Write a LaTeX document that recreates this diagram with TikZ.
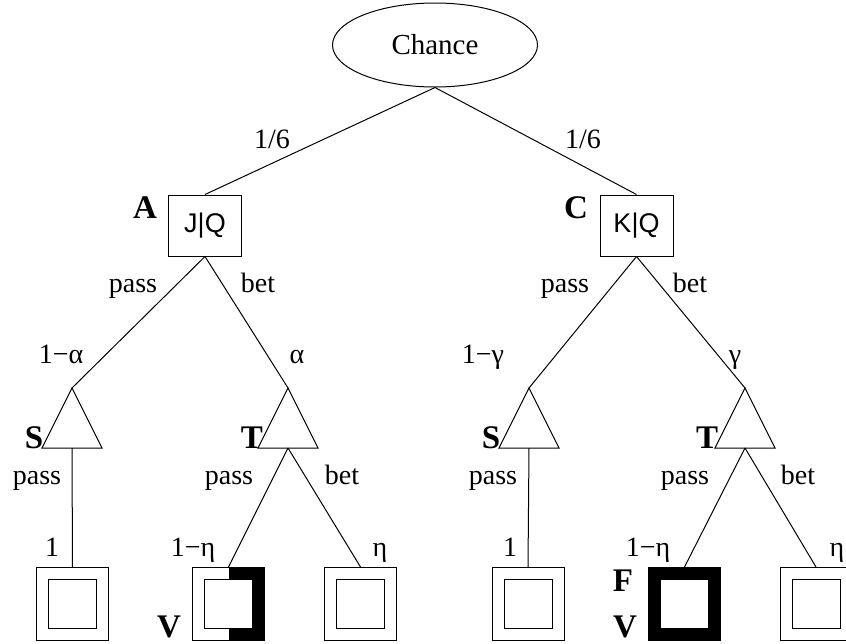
\documentclass[tikz,border=0pt]{standalone}
\usepackage{fontspec}
\setmainfont{Liberation Serif}
\newfontfamily\boxfont{Liberation Sans}
\usetikzlibrary{shapes.geometric}
\tikzset{
  edge/.style={draw=black,line width=1pt},
  lbl/.style={inner sep=0pt,anchor=base,font=\fontsize{28}{30}\selectfont},
  big/.style={inner sep=0pt,anchor=base,font=\fontsize{33}{36}\selectfont\bfseries},
  decbox/.style={draw,line width=1pt,minimum width=73pt,minimum height=61pt,inner sep=0pt,font=\boxfont\fontsize{27}{30}\selectfont},
}
\newcommand{\leafbox}[2]{%
  \draw[line width=1pt] (#2-36,567) rectangle (#2+36,640);
  \draw[line width=1pt] (#2-24,579) rectangle (#2+24,628);
  \coordinate (#1) at (#2,567);
}
\newcommand{\tri}[2]{%
  \draw[line width=1pt,line join=miter] (#2,388) -- (#2+30,448) -- (#2-30,448) -- cycle;
  \coordinate (#1top) at (#2,388);
  \coordinate (#1bot) at (#2,448);
}
\begin{document}
\begin{tikzpicture}[x=1pt,y=-1pt]
\useasboundingbox (0,0) rectangle (846,643);
\clip (0,0) rectangle (846,643);
\fill[white] (0,0) rectangle (846,643);

\node[draw,ellipse,line width=1pt,minimum width=205pt,minimum height=84pt,inner sep=0pt,font=\fontsize{29}{30}\selectfont] (chance) at (435,45) {Chance};

\node[decbox] (A) at (205,225.5) {J|Q};
\node[decbox] (C) at (636.5,225.5) {K|Q};

\tri{S1}{72}
\tri{T1}{288}
\tri{S2}{529}
\tri{T2}{745}

% thick frames
\fill[black] (228.5,567) rectangle (264.5,579);
\fill[black] (252.5,567) rectangle (264.5,640);
\fill[black] (228.5,628) rectangle (264.5,640);
\fill[black] (648.5,567) rectangle (720.5,579);
\fill[black] (648.5,628) rectangle (720.5,640);
\fill[black] (648.5,567) rectangle (660.5,640);
\fill[black] (708.5,567) rectangle (720.5,640);

\leafbox{L1}{72.5}
\leafbox{L2}{228.5}
\leafbox{L3}{360.5}
\leafbox{L4}{528}
\leafbox{L5}{684.5}
\leafbox{L6}{816}

% connectors
\draw[edge] (chance.south) -- (A.north);
\draw[edge] (chance.south) -- (C.north);
\draw[edge] (A.south) -- (S1top);
\draw[edge] (A.south) -- (T1top);
\draw[edge] (C.south) -- (S2top);
\draw[edge] (C.south) -- (T2top);
\draw[edge] (S1bot) -- (L1);
\draw[edge] (T1bot) -- (L2);
\draw[edge] (T1bot) -- (L3);
\draw[edge] (S2bot) -- (L4);
\draw[edge] (T2bot) -- (L5);
\draw[edge] (T2bot) -- (L6);

% labels
\node[lbl] (p16a) at (272,148) {1/6};
\node[lbl] (p16b) at (583,148) {1/6};
\node[big] (nA) at (145,218) {A};
\node[big] (nC) at (576,218) {C};

\node[lbl] (pa1) at (133,292) {pass};
\node[lbl] (ba1) at (258,292) {bet};
\node[lbl] (pc1) at (565,292) {pass};
\node[lbl] (bc1) at (690,292) {bet};

\node[lbl] (al1) at (61,363) {1−α};
\node[lbl] (al2) at (297,363) {α};
\node[lbl] (ga1) at (483,363) {1−γ};
\node[lbl] (ga2) at (735,363) {γ};

\node[big] (nS1) at (34,448) {S};
\node[big] (nT1) at (252,448) {T};
\node[big] (nS2) at (491,448) {S};
\node[big] (nT2) at (707,448) {T};

\node[lbl] (q1) at (37,484) {pass};
\node[lbl] (q2) at (229,484) {pass};
\node[lbl] (q3) at (342,484) {bet};
\node[lbl] (q4) at (493,484) {pass};
\node[lbl] (q5) at (685,484) {pass};
\node[lbl] (q6) at (798,484) {bet};

\node[lbl] (r1) at (52,556) {1};
\node[lbl] (r2) at (193,556) {1−η};
\node[lbl] (r3) at (380,556) {η};
\node[lbl] (r4) at (510,556) {1};
\node[lbl] (r5) at (648,556) {1−η};
\node[lbl] (r6) at (837,556) {η};

\node[big] (v1) at (169,637) {V};
\node[big] (f2) at (623,591) {F};
\node[big] (v2) at (625,637) {V};
\end{tikzpicture}
\end{document}
